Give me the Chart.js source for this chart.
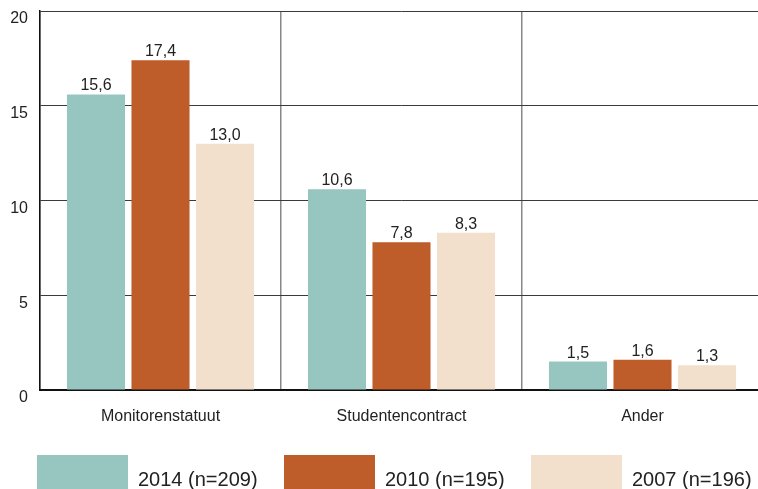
<!DOCTYPE html>
<html>
<head>
<meta charset="utf-8">
<script src="https://cdn.jsdelivr.net/npm/chart.js@4"></script>
<style>
  html, body { margin:0; padding:0; background:#fff; overflow:hidden; }
  #wrap { width:764px; height:489px; }
</style>
</head>
<body>
<div id="wrap"><canvas id="ch" width="764" height="489"></canvas></div>
<script>
// ---- datos
const categorias = ['Monitorenstatuut', 'Studentencontract', 'Ander'];
const series = ['2014 (n=209)', '2010 (n=195)', '2007 (n=196)'];
const v2014 = [15.6, 10.6, 1.5];
const v2010 = [17.4, 7.8, 1.6];
const v2007 = [13.0, 8.3, 1.3];
const yMax = 20, yStep = 5;

const colores = ['#97c6c0', '#be5d2a', '#f2e0cd'];
const FONT = '"Liberation Sans", Arial, sans-serif';
const fmt = n => n.toFixed(1).replace('.', ',');

// etiquetas encima de las barras
const valueLabels = {
  id: 'valueLabels',
  afterDatasetsDraw(chart){
    const ctx = chart.ctx;
    ctx.save();
    ctx.font = '16px ' + FONT;
    ctx.fillStyle = '#222';
    ctx.textAlign = 'center';
    ctx.textBaseline = 'alphabetic';
    chart.data.datasets.forEach((ds, i) => {
      chart.getDatasetMeta(i).data.forEach((bar, j) => {
        ctx.fillText(fmt(ds.data[j]), bar.x, bar.y - 4);
      });
    });
    ctx.restore();
  }
};

// leyenda abajo: cajas grandes, una fila
const bottomLegend = {
  id: 'bottomLegend',
  afterDraw(chart){
    const {ctx, chartArea} = chart;
    const x0 = chartArea.left - 3, paso = 247;
    const top = chartArea.bottom + 65;
    ctx.save();
    ctx.font = '20px ' + FONT;
    ctx.textAlign = 'left';
    ctx.textBaseline = 'middle';
    chart.data.datasets.forEach((ds, i) => {
      const x = x0 + i * paso;
      ctx.fillStyle = ds.backgroundColor;
      ctx.fillRect(x, top, 91, 48);
      ctx.fillStyle = '#222';
      ctx.fillText(ds.label, x + 101, top + 25);
    });
    ctx.restore();
  }
};

new Chart(document.getElementById('ch'), {
  type: 'bar',
  data: {
    labels: categorias,
    datasets: [
      { label: series[0], data: v2014, backgroundColor: colores[0] },
      { label: series[1], data: v2010, backgroundColor: colores[1] },
      { label: series[2], data: v2007, backgroundColor: colores[2] }
    ]
  },
  options: {
    responsive: false,
    animation: false,
    categoryPercentage: 0.803,
    barPercentage: 0.9,
    layout: { padding: { top: 11, left: 0, right: 1, bottom: 60 } },
    scales: {
      x: {
        offset: true,
        grid: { offset: true, color: '#888', lineWidth: 1.5, drawTicks: false },
        border: { color: '#111', width: 2 },
        ticks: { color: '#222', font: { family: FONT, size: 16 }, padding: 17 },
        afterFit(s){ s.height = 39; s.paddingLeft = 0; s.paddingRight = 0; }
      },
      y: {
        min: 0, max: yMax,
        grid: { color: '#3a3a3a', lineWidth: 1, drawTicks: false },
        border: { color: '#111', width: 1.5 },
        ticks: { stepSize: yStep, color: '#222', font: { family: FONT, size: 16 }, padding: 12, labelOffset: 8 },
        afterFit(s){ s.width = 40; s.paddingTop = 0; s.paddingBottom = 0; }
      }
    },
    plugins: {
      tooltip: { enabled: false },
      legend: { display: false }
    }
  },
  plugins: [valueLabels, bottomLegend]
});
</script>
</body>
</html>
